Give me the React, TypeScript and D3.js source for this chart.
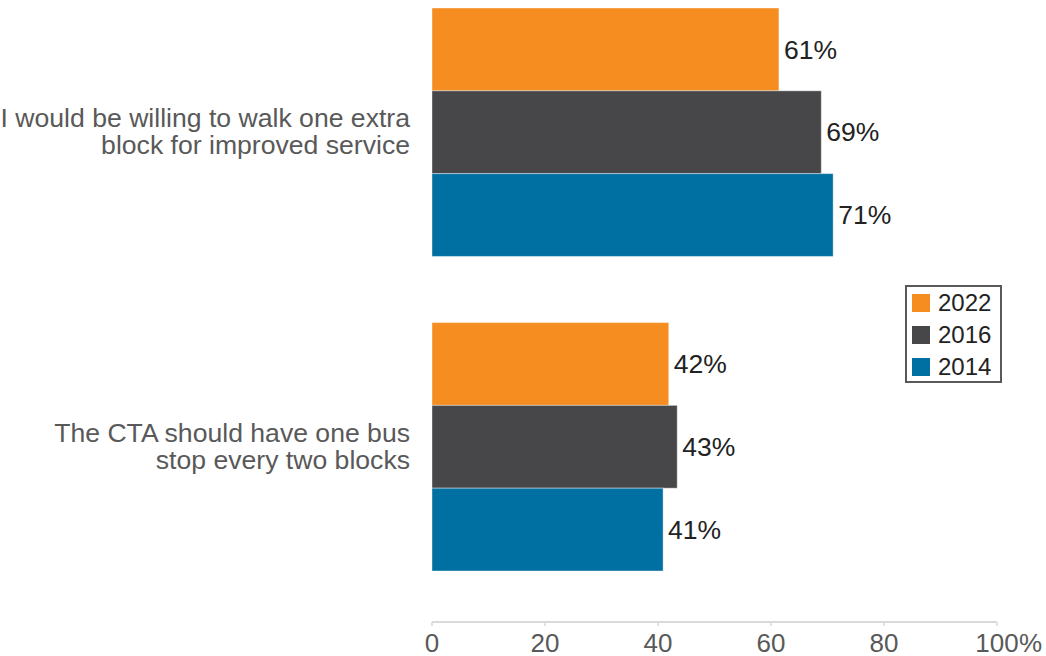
import React from "react";
import * as d3 from "d3";

const categories = [
  ["I would be willing to walk one extra", "block for improved service"],
  ["The CTA should have one bus", "stop every two blocks"],
];
const years = ["2022", "2016", "2014"];
const values2022 = [61.4, 41.9];
const values2016 = [68.9, 43.4];
const values2014 = [71.0, 40.9];
const colors = ["#F68D21", "#474749", "#006FA2"];
const ticks = [0, 20, 40, 60, 80, 100];

export default function App() {
  const W = 1046, H = 656;
  const series = [values2022, values2016, values2014];
  const x = d3.scaleLinear().domain([0, 100]).range([432, 997]);
  const y0 = d3.scaleBand<number>().domain([0, 1]).range([8, 571]).paddingInner(66 / 314).paddingOuter(0);
  const y1 = d3.scaleBand<number>().domain([0, 1, 2]).range([0, y0.bandwidth()]);
  const font = "'Liberation Sans', Arial, sans-serif";
  const axisY = 622;
  return (
    <svg width={W} height={H} style={{ position: "absolute", left: 0, top: 0, display: "block" }} fontFamily={font}>
      <rect width={W} height={H} fill="#fff" />
      {categories.map((lines, ci) => {
        const cy = (y0(ci) as number) + y0.bandwidth() / 2;
        return (
          <g key={ci}>
            {series.map((vals, si) => {
              const by = (y0(ci) as number) + (y1(si) as number);
              const bh = y1.bandwidth();
              return (
                <g key={si}>
                  <rect x={x(0)} y={by} width={x(vals[ci]) - x(0)} height={bh} fill={colors[si]} stroke="#fff" strokeOpacity={0.4} strokeWidth={1} />
                  <text x={x(vals[ci]) + 5} y={by + bh / 2} dy="0.35em" fontSize={26.5} fill="#222">
                    {Math.round(vals[ci])}%
                  </text>
                </g>
              );
            })}
            {lines.map((ln, li) => (
              <text key={li} x={410} y={cy + (li - 0.5) * 27 - 1} dy="0.35em" textAnchor="end" fontSize={26.6} fill="#595959">
                {ln}
              </text>
            ))}
          </g>
        );
      })}
      <line x1={x(0)} x2={x(100)} y1={axisY} y2={axisY} stroke="#d9d9d9" strokeWidth={2} />
      {ticks.map((t) => (
        <g key={t}>
          <line x1={x(t)} x2={x(t)} y1={axisY} y2={axisY + 4} stroke="#d9d9d9" strokeWidth={1.5} />
          <text x={x(t)} y={652} textAnchor="middle" fontSize={26} fill="#595959">
            {t}
          </text>
          {t === 100 && (
            <text x={x(t) + 22} y={652} fontSize={26} fill="#595959">%</text>
          )}
        </g>
      ))}
      <rect x={906} y={286} width={95} height={96} fill="#fff" stroke="#595959" strokeWidth={2} />
      {years.map((yr, i) => (
        <g key={yr}>
          <rect x={912} y={294 + i * 32} width={18} height={18} fill={colors[i]} />
          <text x={938} y={303 + i * 32} dy="0.35em" fontSize={24} fill="#222">{yr}</text>
        </g>
      ))}
    </svg>
  );
}
